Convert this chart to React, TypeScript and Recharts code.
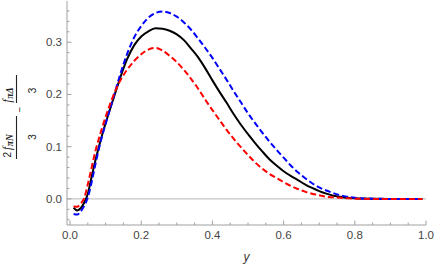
import React from 'react';
import { LineChart, Line, XAxis, YAxis, ReferenceLine } from 'recharts';

// horizontal variable y
const yGrid = [
  0.01, 0.02, 0.03, 0.04, 0.05, 0.06, 0.07, 0.08, 0.09, 0.1, 0.12, 0.14, 0.16, 0.18, 0.2, 0.22, 0.24,
  0.26, 0.28, 0.3, 0.32, 0.34, 0.36, 0.38, 0.4, 0.42, 0.44, 0.46, 0.48, 0.5, 0.52, 0.54, 0.56,
  0.58, 0.6, 0.62, 0.64, 0.66, 0.68, 0.7, 0.72, 0.74, 0.76, 0.78, 0.8, 0.85, 0.9, 0.95, 0.99,
];

// central curve (solid black)
const central = [
  -0.017, -0.022, -0.018, -0.007, 0.01, 0.04, 0.07, 0.097, 0.122, 0.145, 0.188, 0.23, 0.267, 0.294, 0.311, 0.321, 0.327,
  0.326, 0.322, 0.315, 0.304, 0.288, 0.271, 0.25, 0.227, 0.205, 0.184, 0.162, 0.142, 0.124, 0.107, 0.091, 0.076,
  0.064, 0.053, 0.044, 0.036, 0.028, 0.021, 0.015, 0.01, 0.006, 0.004, 0.002, 0.001, 0.0002, 0, 0, 0,
];

// upper band (blue dashed)
const upper = [
  -0.029, -0.03, -0.024, -0.013, 0.003, 0.03, 0.062, 0.093, 0.12, 0.144, 0.19, 0.236, 0.277, 0.309, 0.331, 0.347, 0.356,
  0.359, 0.356, 0.349, 0.338, 0.324, 0.307, 0.289, 0.27, 0.249, 0.228, 0.206, 0.185, 0.164, 0.145, 0.127, 0.11,
  0.094, 0.079, 0.064, 0.051, 0.04, 0.03, 0.022, 0.016, 0.011, 0.007, 0.004, 0.002, 0.0005, 0, 0, 0,
];

// lower band (red dashed)
const lower = [
  -0.014, -0.015, -0.009, 0.002, 0.028, 0.058, 0.088, 0.113, 0.136, 0.157, 0.195, 0.225, 0.247, 0.264, 0.277, 0.286, 0.289,
  0.284, 0.274, 0.262, 0.247, 0.23, 0.211, 0.19, 0.17, 0.151, 0.132, 0.115, 0.099, 0.084, 0.07, 0.058, 0.048,
  0.04, 0.032, 0.025, 0.019, 0.014, 0.01, 0.007, 0.004, 0.003, 0.002, 0.001, 0.0005, 0, 0, 0, 0,
];

const xTicks = [
  0, 0.05, 0.1, 0.15, 0.2, 0.25, 0.3, 0.35, 0.4, 0.45, 0.5, 0.55, 0.6, 0.65, 0.7, 0.75, 0.8, 0.85, 0.9, 0.95, 1.0,
];
const xMajor = [0, 0.2, 0.4, 0.6, 0.8, 1.0];

const yTicks = [
  -0.04, -0.02, 0, 0.02, 0.04, 0.06, 0.08, 0.1, 0.12, 0.14, 0.16, 0.18, 0.2, 0.22, 0.24, 0.26, 0.28, 0.3, 0.32, 0.34, 0.36,
];
const yMajor = [0, 0.1, 0.2, 0.3];

const data = yGrid.map((y, i) => ({ y, central: central[i], upper: upper[i], lower: lower[i] }));

const frame = '#a0a0a0';
const tickFont = { fontFamily: '"Liberation Sans", Arial, sans-serif', fontSize: 11.5, fill: '#444' };
const isMajor = (list: number[], v: number) => list.some((m) => Math.abs(m - v) < 1e-9);

const BottomTick = (p: any) => {
  const major = isMajor(xMajor, p.payload.value);
  return (
    <g>
      <line x1={p.x} x2={p.x} y1={p.y} y2={p.y - (major ? 4.5 : 2.5)} stroke={frame} />
      {major && (
        <text x={p.x} y={p.y + 14} textAnchor="middle" {...tickFont}>
          {p.payload.value.toFixed(1)}
        </text>
      )}
    </g>
  );
};

const TopTick = (p: any) => {
  const major = isMajor(xMajor, p.payload.value);
  return <line x1={p.x} x2={p.x} y1={p.y} y2={p.y + (major ? 4.5 : 2.5)} stroke={frame} />;
};

const LeftTick = (p: any) => {
  const major = isMajor(yMajor, p.payload.value);
  return (
    <g>
      <line x1={p.x} x2={p.x + (major ? 4.5 : 2.5)} y1={p.y} y2={p.y} stroke={frame} />
      {major && (
        <text x={p.x - 5} y={p.y + 4} textAnchor="end" {...tickFont}>
          {p.payload.value.toFixed(1)}
        </text>
      )}
    </g>
  );
};

const RightTick = (p: any) => {
  const major = isMajor(yMajor, p.payload.value);
  return <line x1={p.x} x2={p.x - (major ? 4.5 : 2.5)} y1={p.y} y2={p.y} stroke={frame} />;
};

const serif = '"Liberation Serif", "Times New Roman", serif';
const sans = '"Liberation Sans", Arial, sans-serif';

// rotated fraction label: 2 f_{πN}/3 − f_{πΔ}/3
const YTitle = () => (
  <svg width={45} height={267} style={{ position: 'absolute', left: 0, top: 0 }}>
    <g transform="translate(16.5,117) rotate(-90)" fill="#222">
      <text x={-40.5} y={-5.5} fontSize={10} fontFamily={sans}>
        <tspan>2</tspan>
        <tspan fontFamily={serif} fontStyle="italic" fontSize={11.5} dx={2}>f</tspan>
        <tspan fontFamily={serif} fontStyle="italic" fontWeight="bold" fontSize={9.5} dy={2} dx={0.5}>πN</tspan>
      </text>
      <line x1={-42} x2={1} y1={0} y2={0} stroke="#222" strokeWidth={1.1} />
      <text x={-20} y={19} textAnchor="middle" fontSize={10.5} fontFamily={sans}>3</text>
      <text x={7.5} y={6.5} textAnchor="middle" fontSize={10} fontFamily={sans}>−</text>
      <text x={14.5} y={-5.5} fontSize={10} fontFamily={sans}>
        <tspan fontFamily={serif} fontStyle="italic" fontSize={11.5}>f</tspan>
        <tspan fontFamily={serif} fontStyle="italic" fontWeight="bold" fontSize={9.5} dy={2} dx={0.5}>πΔ</tspan>
      </text>
      <line x1={14} x2={42} y1={0} y2={0} stroke="#222" strokeWidth={1.1} />
      <text x={26.5} y={19} textAnchor="middle" fontSize={10.5} fontFamily={sans}>3</text>
    </g>
  </svg>
);

const xDomain = [-0.0085, 1.0];
const yDomain = [-0.05, 0.379];

export default function App() {
  return (
    <div style={{ position: 'absolute', left: 0, top: 0, width: 436, height: 267, background: '#fff' }}>
      <LineChart width={436} height={267} data={data} margin={{ top: 1, right: 10, bottom: 0, left: 0 }}>
        <XAxis
          dataKey="y"
          type="number"
          domain={xDomain}
          ticks={xTicks}
          interval={0}
          allowDataOverflow
          height={42}
          tickSize={0}
          tickMargin={0}
          tickLine={false}
          axisLine={{ stroke: frame }}
          tick={BottomTick}
          label={{ value: 'y', position: 'insideBottom', offset: 6, fontStyle: 'italic', fontSize: 12, fill: '#333', fontFamily: sans }}
        />
        <XAxis
          xAxisId="top"
          orientation="top"
          dataKey="y"
          type="number"
          domain={xDomain}
          ticks={xTicks}
          interval={0}
          allowDataOverflow
          height={0}
          tickSize={0}
          tickMargin={0}
          tickLine={false}
          axisLine={{ stroke: frame }}
          tick={TopTick}
        />
        <YAxis
          type="number"
          domain={yDomain}
          ticks={yTicks}
          interval={0}
          allowDataOverflow
          width={67}
          tickSize={0}
          tickMargin={0}
          tickLine={false}
          axisLine={{ stroke: frame }}
          tick={LeftTick}
        />
        <YAxis
          yAxisId="right"
          orientation="right"
          type="number"
          domain={yDomain}
          ticks={yTicks}
          interval={0}
          allowDataOverflow
          width={0}
          tickSize={0}
          tickMargin={0}
          tickLine={false}
          axisLine={{ stroke: frame }}
          tick={RightTick}
        />
        <ReferenceLine y={0} stroke="#b8b8b8" strokeWidth={1} />
        <Line dataKey="central" type="monotone" stroke="#000" strokeWidth={2} dot={false} isAnimationActive={false} />
        <Line dataKey="upper" type="monotone" stroke="#0000ff" strokeWidth={2} strokeDasharray="6 3" dot={false} isAnimationActive={false} />
        <Line dataKey="lower" type="monotone" stroke="#ff0000" strokeWidth={2} strokeDasharray="6 3" dot={false} isAnimationActive={false} />
      </LineChart>
      <YTitle />
    </div>
  );
}
